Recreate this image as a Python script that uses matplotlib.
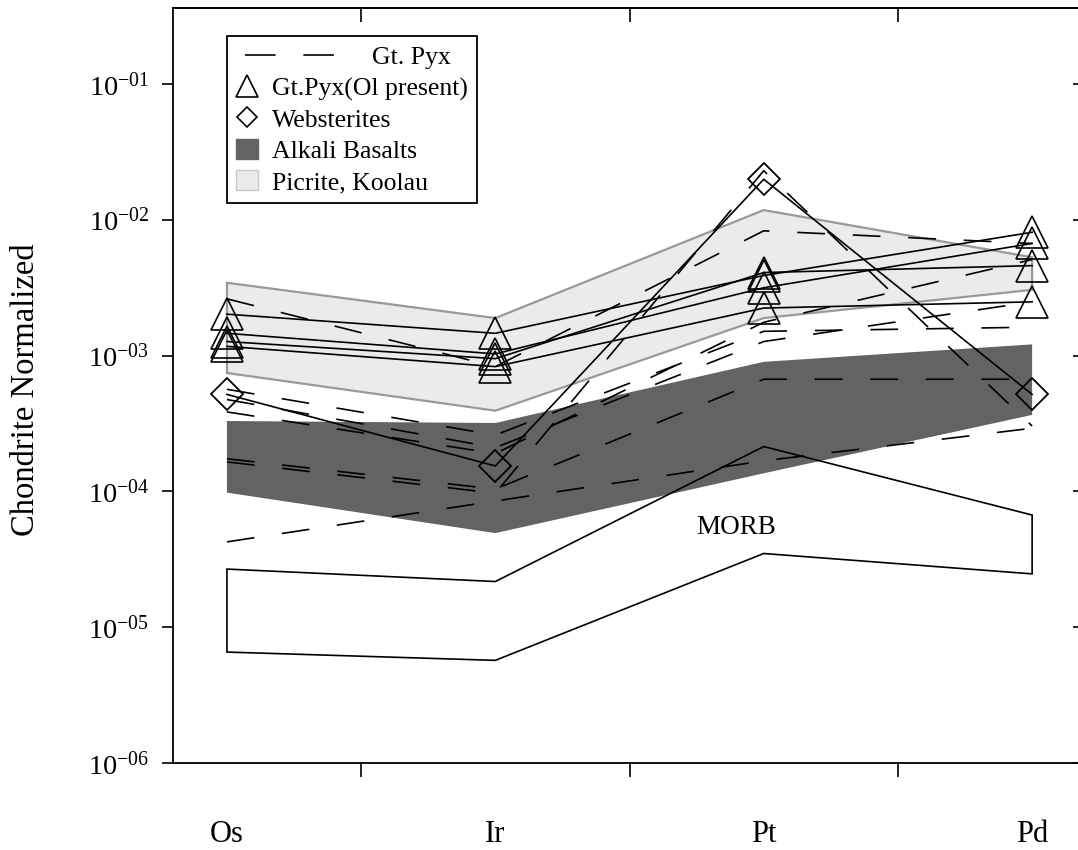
import matplotlib
matplotlib.use('Agg')
import matplotlib.pyplot as plt
import numpy as np
from matplotlib.lines import Line2D
from matplotlib.patches import Patch
from matplotlib.legend_handler import HandlerBase
from matplotlib.ticker import FuncFormatter, NullLocator

plt.rcParams['font.family'] = ['Liberation Serif', 'DejaVu Serif']
plt.rcParams['mathtext.fontset'] = 'custom'
plt.rcParams['mathtext.rm'] = 'Liberation Serif'
plt.rcParams['lines.scale_dashes'] = False

# ---------------- data ----------------
elements = ['Os', 'Ir', 'Pt', 'Pd']
decades = [1e-6, 1e-5, 1e-4, 1e-3, 1e-2, 1e-1]

picrite_upper = [3.44e-3, 1.89e-3, 1.18e-2, 5.3e-3]
picrite_lower = [7.45e-4, 3.93e-4, 1.89e-3, 3.05e-3]
alkali_upper = [3.30e-4, 3.19e-4, 9.0e-4, 1.21e-3]
alkali_lower = [9.8e-5, 4.93e-5, 1.36e-4, 3.66e-4]
morb_upper = [2.68e-5, 2.17e-5, 2.14e-4, 6.7e-5]
morb_lower = [6.56e-6, 5.7e-6, 3.49e-5, 2.47e-5]

# Gt. Pyx (dashed)
gtpyx_1 = [2.62e-3, 8.3e-4, 8.3e-3, 6.7e-3]
gtpyx_2 = [5.65e-4, 2.6e-4, 1.51e-3, 1.62e-3]
gtpyx_3 = [4.75e-4, 2.1e-4, 1.27e-3, 2.49e-3]
gtpyx_4 = [3.85e-4, 1.9e-4, 1.76e-3, 5.1e-3]
gtpyx_5 = [1.74e-4, 1.04e-4, 6.7e-4, 6.7e-4]
gtpyx_6 = [1.65e-4, 9.7e-5, 2.3e-2, 3.03e-4]
gtpyx_7 = [4.25e-5, 8.5e-5, 1.68e-4, 2.92e-4]

# Gt. Pyx (Ol present) (triangles)
gtpyx_ol_1 = [2.02e-3, 1.46e-3, 3.89e-3, 8.1e-3]
gtpyx_ol_2 = [1.46e-3, 1.03e-3, 3.16e-3, 6.7e-3]
gtpyx_ol_3 = [1.27e-3, 9.5e-4, 4.09e-3, 4.6e-3]
gtpyx_ol_4 = [1.17e-3, 8.3e-4, 2.24e-3, 2.49e-3]

# Websterites (diamonds)
websterite_1 = [5.18e-4, 1.54e-4, 1.99e-2, 5.18e-4]

gtpyx_series = [gtpyx_1, gtpyx_2, gtpyx_3, gtpyx_4, gtpyx_5, gtpyx_6, gtpyx_7]
gtpyx_ol_series = [gtpyx_ol_1, gtpyx_ol_2, gtpyx_ol_3, gtpyx_ol_4]
websterite_series = [websterite_1]

# ---------------- figure ----------------
W, H = 1078, 850
fig = plt.figure(figsize=(W / 100, H / 100), dpi=100)
ax = fig.add_axes([173 / W, 1 - 763 / H, (1085 - 173) / W, (763 - 8) / H])
ax.set_yscale('log')

x = np.arange(len(elements))


def band_xy(upper, lower):
    xs = np.concatenate([x, x[::-1]])
    ys = np.concatenate([np.asarray(upper), np.asarray(lower)[::-1]])
    return xs, ys


xs, ys = band_xy(picrite_upper, picrite_lower)
ax.fill(xs, ys, facecolor='#ebebeb', edgecolor='#999999', lw=1.6, zorder=1)
xs, ys = band_xy(alkali_upper, alkali_lower)
ax.fill(xs, ys, facecolor='#636363', edgecolor='none', zorder=1)
xs, ys = band_xy(morb_upper, morb_lower)
ax.fill(xs, ys, facecolor='none', edgecolor='black', lw=1.2, zorder=2)

dash = (0, (20, 20))
for s in gtpyx_series:
    ax.plot(x, s, color='black', lw=1.2, ls=dash, zorder=3)
for s in gtpyx_ol_series:
    ax.plot(x, s, color='black', lw=1.2, marker='^', ms=23.5,
            mfc='none', mec='black', mew=1.2, zorder=4)
for s in websterite_series:
    ax.plot(x, s, color='black', lw=1.2, marker='D', ms=16.5,
            mfc='none', mec='black', mew=1.3, zorder=4)

ax.text(1.896, 5.45e-5, 'MORB', fontsize=19.5, ha='center', va='center')

# ---------------- axes ----------------
ax.set_xlim(-0.201, 3.197)
ax.set_ylim(1e-6, 10 ** (-0.44))

ax.set_xticks(x)
ax.set_xticklabels(elements)
ax.set_xticks([0.5, 1.5, 2.5], minor=True)
ax.tick_params(axis='x', which='major', length=0, pad=41, labelsize=22)
ax.tick_params(axis='x', which='minor', length=10, width=1.2, direction='out')

ax.set_yticks(decades)
ax.yaxis.set_major_formatter(FuncFormatter(
    lambda v, p: r'$\mathregular{10^{-0%d}}$' % int(round(-np.log10(v)))))
ax.yaxis.set_minor_locator(NullLocator())
ax.tick_params(axis='y', which='major', length=8, width=1.2,
               direction='out', pad=9, labelsize=20.5)
ax.tick_params(top=False, right=False)

for sp in ['left', 'bottom', 'top']:
    ax.spines[sp].set_linewidth(1.3)
ax.spines['right'].set_visible(False)

sec_top = ax.secondary_xaxis('top')
sec_top.set_xticks([0.5, 1.5, 2.5])
sec_top.tick_params(direction='in', length=10, width=1.2, labeltop=False)
sec_top.spines['top'].set_linewidth(1.3)

sec_right = ax.secondary_yaxis('right')
sec_right.set_yticks(decades)
sec_right.yaxis.set_minor_locator(NullLocator())
sec_right.tick_params(direction='in', length=9, width=1.2, labelright=False)

ax.set_ylabel('Chondrite Normalized', fontsize=23.5)
ax.yaxis.set_label_coords(-0.1447, 0.494)


# ---------------- legend ----------------
class LongDashHandler(HandlerBase):
    def create_artists(self, legend, orig_handle, xdescent, ydescent,
                       width, height, fontsize, trans):
        y0 = height / 2 - ydescent
        line = Line2D([-xdescent + 0.4 * width, -xdescent + 4.6 * width],
                      [y0, y0], color='black', lw=1.2, ls=(0, (22, 20)))
        line.set_transform(trans)
        return [line]


h_dash = Line2D([], [], color='black', lw=1.2, ls=dash)
h_tri = Line2D([], [], ls='none', marker='^', ms=15.5, mfc='none',
               mec='black', mew=1.2)
h_dia = Line2D([], [], ls='none', marker='D', ms=9.8, mfc='none',
               mec='black', mew=1.2)
h_alk = Patch(facecolor='#636363', edgecolor='#636363')
h_pic = Patch(facecolor='#ebebeb', edgecolor='#c8c8c8')

leg = ax.legend([h_dash, h_tri, h_dia, h_alk, h_pic],
                ['Gt. Pyx', 'Gt.Pyx(Ol present)', 'Websterites',
                 'Alkali Basalts', 'Picrite, Koolau'],
                handler_map={h_dash: LongDashHandler()},
                loc='upper left', bbox_to_anchor=(0.0592, 0.963),
                borderaxespad=0, fontsize=18.5, handlelength=0.85,
                handleheight=0.85, handletextpad=0.55, labelspacing=0.27,
                borderpad=0.36, fancybox=False, framealpha=1,
                edgecolor='black')
leg.get_frame().set_linewidth(1.3)
leg.get_texts()[0].set_x(100)

fig.savefig('out.png', dpi=100)
